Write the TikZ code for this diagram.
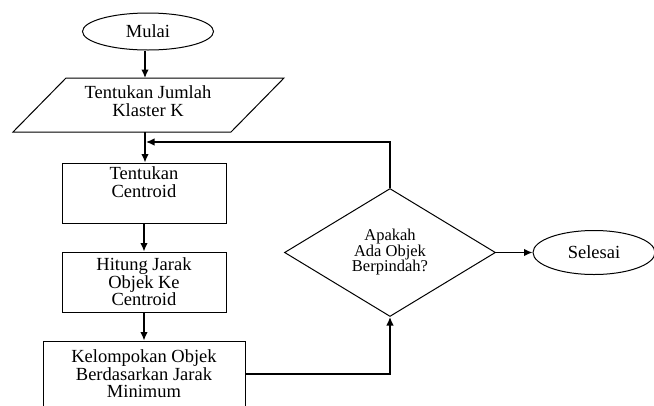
\documentclass[tikz,border=0pt]{standalone}
\usepackage{fontspec}
\setmainfont{Liberation Serif}
\usetikzlibrary{shapes.geometric,arrows.meta}
\begin{document}
\begin{tikzpicture}[x=1pt,y=-1pt,
  shp/.style={draw=black,line width=1pt,inner sep=0pt,align=center,
    font=\fontsize{18.5}{17.5}\selectfont},
  boxnode/.style={shp,rectangle},
  ovalnode/.style={shp,ellipse},
  decnode/.style={shp,diamond,font=\fontsize{16.5}{15.5}\selectfont},
  lbl/.style={inner sep=0pt,align=center,font=\fontsize{18.5}{17.5}\selectfont},
  conn/.style={line width=1.4pt,-{Latex[length=8.5pt,width=7.5pt]}}]
\useasboundingbox (0,0) rectangle (654,405);
% start
\node[ovalnode,minimum width=131pt,minimum height=37pt] (mulai) at (148,31.5) {Mulai};
% parallelogram input
\coordinate (ptl) at (66,78);
\coordinate (ptr) at (284,78);
\coordinate (pbr) at (231,132);
\coordinate (pbl) at (13,132);
\draw[line width=1pt] (ptl) -- (ptr) -- (pbr) -- (pbl) -- cycle;
\node[lbl] (jumlah) at (148,101) {Tentukan Jumlah\\Klaster K};
\coordinate (ptop) at (145,78);
\coordinate (pbot) at (145,132);
% process boxes
\node[boxnode,minimum width=164pt,minimum height=60pt] (cent) at (144,193) {Tentukan\\Centroid\vphantom{g}\\[4pt]};
\node[boxnode,minimum width=164pt,minimum height=60pt] (hitung) at (144,282) {Hitung Jarak\\Objek Ke\\Centroid};
\node[boxnode,minimum width=202pt,minimum height=66pt] (kelompok) at (144,374) {Kelompokan Objek\\Berdasarkan Jarak\\Minimum};
% decision
\node[decnode,minimum width=211pt,minimum height=128pt] (dec) at (390,252.5) {Apakah\\Ada Objek\\Berpindah?};
% end
\node[ovalnode,minimum width=122pt,minimum height=44pt] (selesai) at (594,252.5) {Selesai};
% connectors
\draw[conn] (ptop |- mulai.south) -- (ptop);
\draw[conn] (pbot) -- (pbot |- cent.north);
\draw[conn] (cent.south) -- (hitung.north);
\draw[conn] (hitung.south) -- (kelompok.north);
\draw[conn] (kelompok.east |- 0,374) -| (dec.south);
\coordinate (join) at (146,142);
\draw[conn] (dec.north) |- (join);
\draw[conn] (dec.east) -- (selesai.west);
\end{tikzpicture}
\end{document}
